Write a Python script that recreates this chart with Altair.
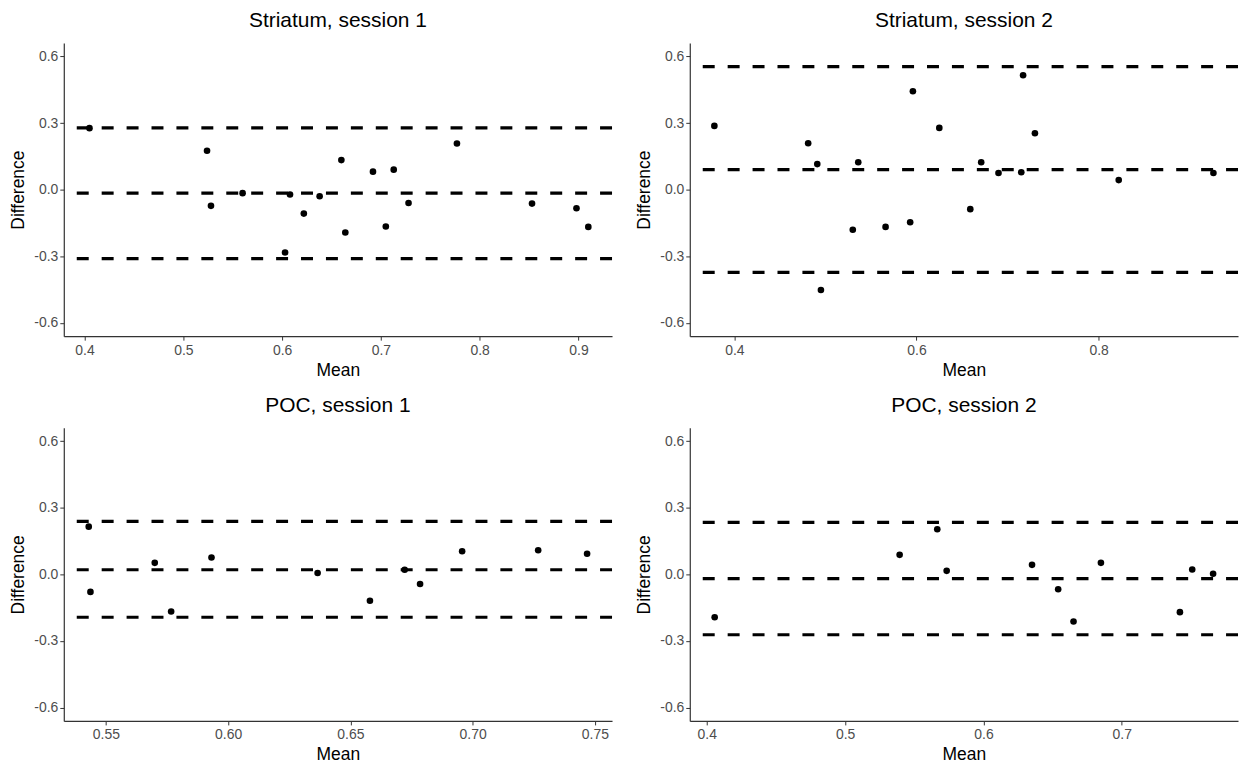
import altair as alt
import pandas as pd

# Bland-Altman points: mean of the two measurements vs their difference
s1_mean = [0.405, 0.524, 0.528, 0.560, 0.603, 0.608, 0.622, 0.638, 0.660, 0.664,
           0.692, 0.705, 0.713, 0.728, 0.777, 0.853, 0.898, 0.910]
s1_diff = [0.277, 0.175, -0.073, -0.016, -0.283, -0.022, -0.108, -0.030, 0.133, -0.193,
           0.081, -0.166, 0.090, -0.060, 0.208, -0.063, -0.084, -0.168]
s1_lines = [0.278, -0.016, -0.311]

s2_mean = [0.378, 0.481, 0.491, 0.495, 0.530, 0.536, 0.566, 0.593, 0.596, 0.625,
           0.659, 0.671, 0.690, 0.715, 0.717, 0.730, 0.822, 0.926]
s2_diff = [0.287, 0.209, 0.115, -0.452, -0.181, 0.123, -0.168, -0.147, 0.443, 0.278,
           -0.088, 0.123, 0.075, 0.078, 0.515, 0.254, 0.043, 0.075]
s2_lines = [0.554, 0.090, -0.373]

p1_mean = [0.543, 0.5437, 0.570, 0.5767, 0.5932, 0.6366, 0.658, 0.6722, 0.6785,
           0.6957, 0.7268, 0.7468]
p1_diff = [0.215, -0.079, 0.052, -0.167, 0.076, 0.006, -0.119, 0.021, -0.043,
           0.104, 0.109, 0.093]
p1_lines = [0.239, 0.021, -0.193]

p2_mean = [0.4057, 0.5394, 0.5666, 0.5734, 0.6351, 0.654, 0.6651, 0.6849, 0.742,
           0.7509, 0.766]
p2_diff = [-0.193, 0.088, 0.203, 0.016, 0.043, -0.067, -0.212, 0.052, -0.170,
           0.022, 0.003]
p2_lines = [0.234, -0.019, -0.272]

FONT = "Liberation Sans"
W, H = 550, 294
Y_DOMAIN = [-0.66, 0.66]
Y_TICKS = [-0.6, -0.3, 0.0, 0.3, 0.6]


def label_expr(fmt):
    return f"replace(format(datum.value, '{fmt}'), '\u2212', '-')"


def panel(title, means, diffs, lines, x_domain, x_ticks, x_fmt):
    pts = pd.DataFrame({"Mean": means, "Difference": diffs})
    ref = pd.DataFrame({"y": lines})
    x = alt.X(
        "Mean:Q",
        title="Mean",
        scale=alt.Scale(domain=x_domain, nice=False, zero=False),
        axis=alt.Axis(values=x_ticks, labelExpr=label_expr(x_fmt)),
    )
    y = alt.Y(
        "Difference:Q",
        title="Difference",
        scale=alt.Scale(domain=Y_DOMAIN, nice=False, zero=False),
        axis=alt.Axis(values=Y_TICKS, labelExpr=label_expr(".1f")),
    )
    dots = alt.Chart(pts).mark_circle(size=44, color="black", opacity=1).encode(x=x, y=y)
    rules = alt.Chart(ref).mark_rule(
        color="black", strokeWidth=3.2, strokeDash=[12, 13]
    ).encode(y=alt.Y("y:Q", scale=alt.Scale(domain=Y_DOMAIN, nice=False)))
    return alt.layer(rules, dots).properties(
        width=W,
        height=H,
        title=alt.TitleParams(
            title, fontSize=21, font=FONT, fontWeight="normal",
            anchor="middle", color="black", offset=12,
        ),
    )


c1 = panel("Striatum, session 1", s1_mean, s1_diff, s1_lines,
           [0.379, 0.934], [0.4, 0.5, 0.6, 0.7, 0.8, 0.9], ".1f")
c2 = panel("Striatum, session 2", s2_mean, s2_diff, s2_lines,
           [0.351, 0.953], [0.4, 0.6, 0.8], ".1f")
c3 = panel("POC, session 1", p1_mean, p1_diff, p1_lines,
           [0.5328, 0.757], [0.55, 0.60, 0.65, 0.70, 0.75], ".2f")
c4 = panel("POC, session 2", p2_mean, p2_diff, p2_lines,
           [0.3877, 0.784], [0.4, 0.5, 0.6, 0.7], ".1f")

chart = alt.vconcat(
    alt.hconcat(c1, c2, spacing=21),
    alt.hconcat(c3, c4, spacing=21),
    spacing=16,
).properties(
    padding={"left": 9, "top": 9, "right": 2, "bottom": 2},
    background="white",
).configure_view(
    stroke=None
).configure_axis(
    grid=False,
    domainColor="#333333",
    domainWidth=1.2,
    tickColor="#333333",
    tickSize=4,
    labelColor="#4D4D4D",
    labelFont=FONT,
    labelFontSize=14,
    titleFont=FONT,
    titleFontSize=17.5,
    titleFontWeight="normal",
    titleColor="black",
).configure_axisX(
    titlePadding=4, labelPadding=3
).configure_axisY(
    titlePadding=6, labelPadding=2
)

chart.save("out.html", embed_options={"renderer": "svg", "actions": False})
